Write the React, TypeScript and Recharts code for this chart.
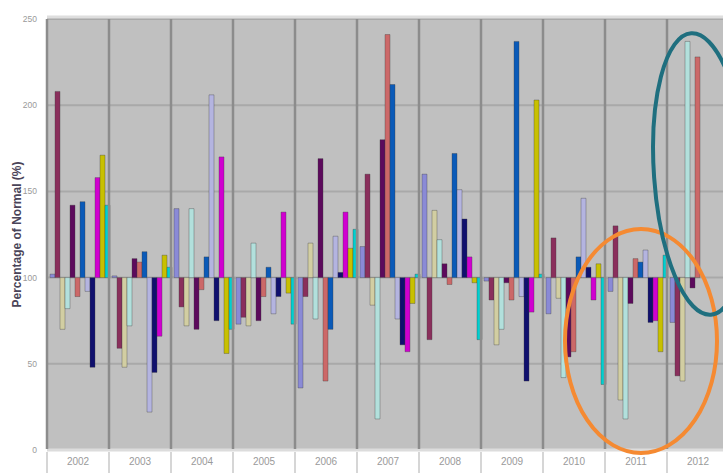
import React from "react";
import {
  BarChart,
  Bar,
  XAxis,
  YAxis,
  CartesianGrid,
  Label,
} from "recharts";

// years on the x axis, one bar per month (percentage of normal)
const years = ["2002", "2003", "2004", "2005", "2006", "2007", "2008", "2009", "2010", "2011", "2012"];
const months = ["Jan", "Feb", "Mar", "Apr", "May", "Jun", "Jul", "Aug", "Sep", "Oct", "Nov", "Dec"];
const monthColors = [
  "#8a8ad6", "#8a2f5c", "#d2cea2", "#b2e0dc", "#5c0a5c", "#cc6868",
  "#0a5ab8", "#b4b4e0", "#10106e", "#d000d0", "#c8c000", "#00d0d0",
];

const jan = [102, 101, 140, 73, 36, 118, 160, 98, 79, 92, 74];
const feb = [208, 59, 83, 77, 89, 160, 64, 87, 123, 130, 43];
const mar = [70, 48, 72, 72, 120, 84, 139, 61, 88, 29, 40];
const apr = [82, 72, 140, 120, 76, 18, 122, 70, 42, 18, 237];
const may = [142, 111, 70, 75, 169, 180, 108, 97, 54, 85, 94];
const jun = [89, 109, 93, 89, 40, 241, 96, 87, 57, 111, 228];
const jul = [144, 115, 112, 106, 70, 212, 172, 237, 112, 109, null];
const aug = [92, 22, 206, 79, 124, 76, 151, 89, 146, 116, null];
const sep = [48, 45, 75, 89, 103, 61, 134, 40, 106, 74, null];
const oct = [158, 66, 170, 138, 138, 57, 112, 80, 87, 75, null];
const nov = [171, 113, 56, 91, 117, 85, 97, 203, 108, 57, null];
const dec = [142, 106, 70, 73, 128, 102, 64, 102, 38, 113, null];

const monthValues = [jan, feb, mar, apr, may, jun, jul, aug, sep, oct, nov, dec];
const yTicks = [0, 50, 100, 150, 200, 250];
const normal = 100;

const data = years.map((year, i) => {
  const row: Record<string, string | number | null> = { year };
  months.forEach((m, j) => {
    row[m] = monthValues[j][i];
  });
  return row;
});

const CHART_W = 735;
const CHART_H = 476;
const MARGIN = { top: 19, right: 6, left: 0, bottom: 0 };
const Y_W = 47;
const X_H = 26;
const plotW = CHART_W - MARGIN.left - MARGIN.right - Y_W;
const bandW = plotW / years.length;

// year label plus the band separator lines (plot grid and the label cells)
function YearTick(props: any) {
  const { x, y, payload } = props;
  const left = x - bandW / 2;
  return (
    <g>
      <line x1={left} x2={left} y1={MARGIN.top} y2={CHART_H - X_H - 1} stroke="#8c8c8c" strokeWidth={2.5} />
      <line x1={left} x2={left} y1={y - 6} y2={y + 15} stroke="#d6d6d6" strokeWidth={2} />
      <text
        x={x}
        y={y + 7}
        textAnchor="middle"
        fontSize={10}
        fill="#9a9a9a"
        fontFamily="Liberation Sans, Arial, sans-serif"
      >
        {payload.value}
      </text>
    </g>
  );
}

export default function App() {
  return (
    <div
      style={{
        position: "absolute",
        left: 0,
        top: 0,
        width: 723,
        height: 476,
        overflow: "hidden",
        background: "#ffffff",
      }}
    >
      <BarChart
        width={CHART_W}
        height={CHART_H}
        data={data}
        margin={MARGIN}
        barCategoryGap={3}
        barGap={0}
      >
        <CartesianGrid
          stroke="#a9a9a9"
          strokeWidth={2}
          fill="#c0c0c0"
          vertical={false}
        />
        <XAxis
          dataKey="year"
          height={X_H}
          tickLine={false}
          axisLine={{ stroke: "#dcdcdc", strokeWidth: 3 }}
          tick={<YearTick />}
          interval={0}
        />
        <YAxis
          domain={[0, 250]}
          ticks={yTicks}
          width={Y_W}
          tickLine={false}
          axisLine={false}
          tick={{ fontSize: 8.5, fill: "#9a9a9a", fontFamily: "Liberation Sans, Arial, sans-serif" }}
          tickMargin={4}
        >
          <Label
            value="Percentage of Normal (%)"
            angle={-90}
            position="insideLeft"
            offset={17}
            style={{
              fontSize: 12,
              fontWeight: "bold",
              fill: "#4a4458",
              fontFamily: "Liberation Sans, Arial, sans-serif",
              textAnchor: "middle",
            }}
          />
        </YAxis>
        {months.map((m, j) => (
          <Bar
            key={m}
            dataKey={(d: any) => (d[m] == null ? null : [normal, d[m]])}
            name={m}
            fill={monthColors[j]}
            stroke="rgba(60,60,60,0.35)"
            strokeWidth={1}
            isAnimationActive={false}
          />
        ))}
      </BarChart>
      {/* annotation ellipses drawn over the chart */}
      <svg
        width={723}
        height={476}
        style={{ position: "absolute", left: 0, top: 0, pointerEvents: "none" }}
      >
        <line x1={47} x2={723} y1={17} y2={17} stroke="#dedede" strokeWidth={3} />
        <ellipse
          cx={641}
          cy={341}
          rx={76}
          ry={112}
          fill="none"
          stroke="#f58a32"
          strokeWidth={4}
        />
        <ellipse
          cx={701}
          cy={174}
          rx={47}
          ry={141}
          fill="none"
          stroke="#1f6f7f"
          strokeWidth={4}
          transform="rotate(-4 701 174)"
        />
      </svg>
    </div>
  );
}
